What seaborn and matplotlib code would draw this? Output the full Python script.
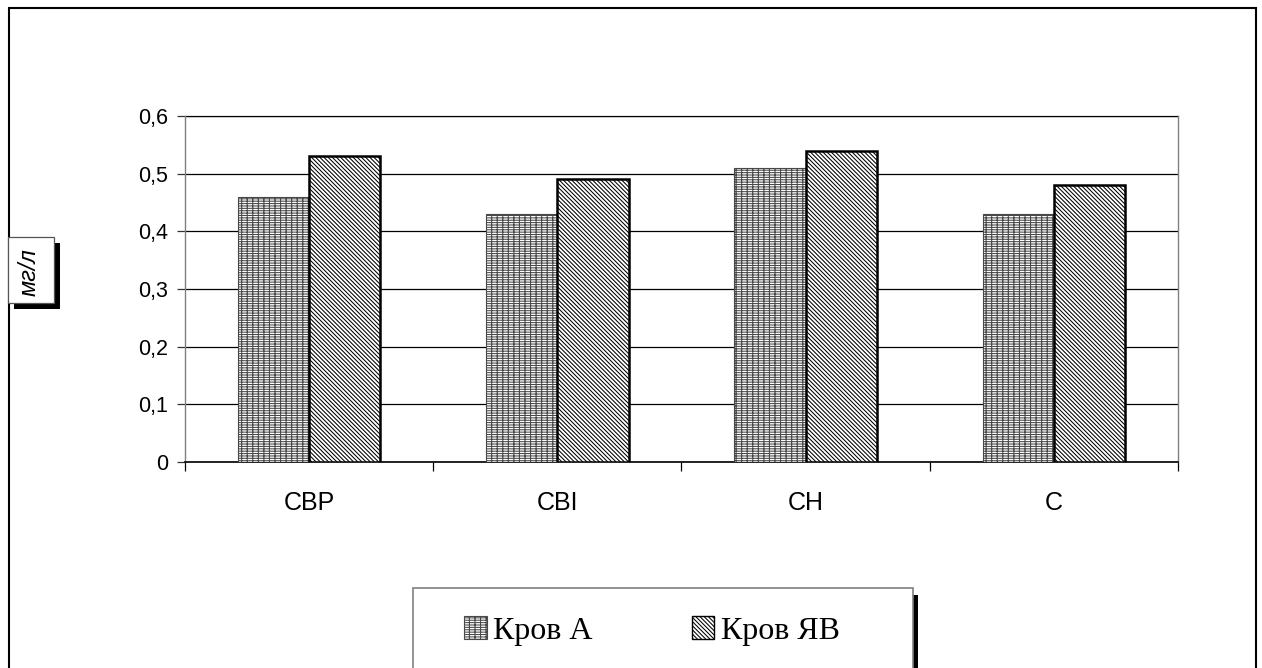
import matplotlib
matplotlib.use("Agg")
import matplotlib.pyplot as plt
from matplotlib.patches import Rectangle
from matplotlib.ticker import FixedLocator, FuncFormatter
import seaborn as sns
import pandas as pd

categories = ["CBP", "CBI", "CH", "C"]
series_names = ["Кров А", "Кров ЯВ"]
krov_a = [0.46, 0.43, 0.51, 0.43]
krov_yav = [0.53, 0.49, 0.54, 0.48]
y_ticks = [0, 0.1, 0.2, 0.3, 0.4, 0.5, 0.6]
y_label = "мг/л"

df = pd.DataFrame({
    "cat": categories * 2,
    "val": krov_a + krov_yav,
    "series": [series_names[0]] * 4 + [series_names[1]] * 4,
})

sns.set_style("white")
plt.rcParams["font.family"] = ["Liberation Sans", "DejaVu Sans"]
plt.rcParams["hatch.linewidth"] = 0.75
plt.rcParams["text.color"] = "black"
plt.rcParams["xtick.labelcolor"] = "black"
plt.rcParams["ytick.labelcolor"] = "black"

W, H = 1262, 668
fig = plt.figure(figsize=(W / 100, H / 100), dpi=100)
ax = fig.add_axes([185 / W, 1 - 462 / H, (1178 - 185) / W, (462 - 116) / H])

sns.barplot(data=df, x="cat", y="val", hue="series", order=categories,
            hue_order=series_names, width=0.575, gap=0, ax=ax,
            palette=["white", "white"], legend=False, errorbar=None)

styles = {
    series_names[0]: dict(hatch="-------|||", edgecolor="#484848", linewidth=0.8),
    series_names[1]: dict(hatch="\\" * 8, edgecolor="black", linewidth=1.8),
}
bars = ax.patches
for i, p in enumerate(bars[:8]):
    st = styles[series_names[i // 4]]
    p.set_hatch(st["hatch"])
    p.set_edgecolor(st["edgecolor"])
    p.set_linewidth(st["linewidth"])
    p.set_facecolor("white")
    p.set_zorder(3)

ax.set_ylim(0, 0.6)
ax.set_xlim(-0.5, len(categories) - 0.5)
ax.set_yticks(y_ticks)
ax.yaxis.set_major_formatter(FuncFormatter(lambda v, _: ("%g" % round(v, 2)).replace(".", ",")))
ax.grid(axis="y", color="black", linewidth=0.9, zorder=1)
ax.set_axisbelow(True)
ax.set_xlabel("")
ax.set_ylabel("")

ax.tick_params(axis="y", which="major", direction="out", length=6, width=0.9,
               color="#333333", left=True, labelsize=15.5, pad=6)
ax.tick_params(axis="x", which="major", length=0, labelsize=18, pad=21)
ax.xaxis.set_minor_locator(FixedLocator([x - 0.5 for x in range(len(categories) + 1)]))
ax.tick_params(axis="x", which="minor", direction="out", length=6.5, width=0.9,
               color="black", bottom=True)

for side in ["left", "top", "right"]:
    ax.spines[side].set_color("#808080")
    ax.spines[side].set_linewidth(1.0)
ax.spines["bottom"].set_color("black")
ax.spines["bottom"].set_linewidth(1.2)
ax.spines["top"].set_zorder(0.5)

# outer chart frame
fig.patches.append(Rectangle((9 / W, -0.05), (1256 - 9) / W, 1.05 - 8 / H,
                             transform=fig.transFigure, fill=False,
                             edgecolor="black", linewidth=1.5))

# y-axis unit label in a shadowed box
fig.patches.append(Rectangle((14 / W, 1 - 309 / H), 46 / W, 66 / H,
                             transform=fig.transFigure, facecolor="black",
                             edgecolor="none"))
fig.patches.append(Rectangle((8 / W, 1 - 303 / H), 46 / W, 66 / H,
                             transform=fig.transFigure, facecolor="white",
                             edgecolor="#555555", linewidth=0.9))
fig.text(29 / W, 1 - 272 / H, y_label, rotation=90, ha="center", va="center",
         fontsize=17, style="italic")

# legend frame with shadow
fig.patches.append(Rectangle((913 / W, -0.05), 5 / W, 1.05 - 595 / H,
                             transform=fig.transFigure, facecolor="black",
                             edgecolor="none"))
fig.patches.append(Rectangle((413 / W, -0.05), 500 / W, 1.05 - 588 / H,
                             transform=fig.transFigure, facecolor="white",
                             edgecolor="#808080", linewidth=1.2))

handles = [
    Rectangle((0, 0), 1, 1, facecolor="white", **styles[series_names[0]]),
    Rectangle((0, 0), 1, 1, facecolor="white", **styles[series_names[1]]),
]
handles[0].set_linewidth(0.8)
handles[1].set_linewidth(1.0)
fig.legend(handles, series_names, loc="center", bbox_to_anchor=(652 / W, 1 - 631 / H),
           ncol=2, frameon=False, handlelength=0.7, handleheight=0.7,
           handletextpad=0.2, columnspacing=3.1,
           prop={"family": ["Liberation Serif"], "size": 23})

fig.savefig("out.png", dpi=100)
